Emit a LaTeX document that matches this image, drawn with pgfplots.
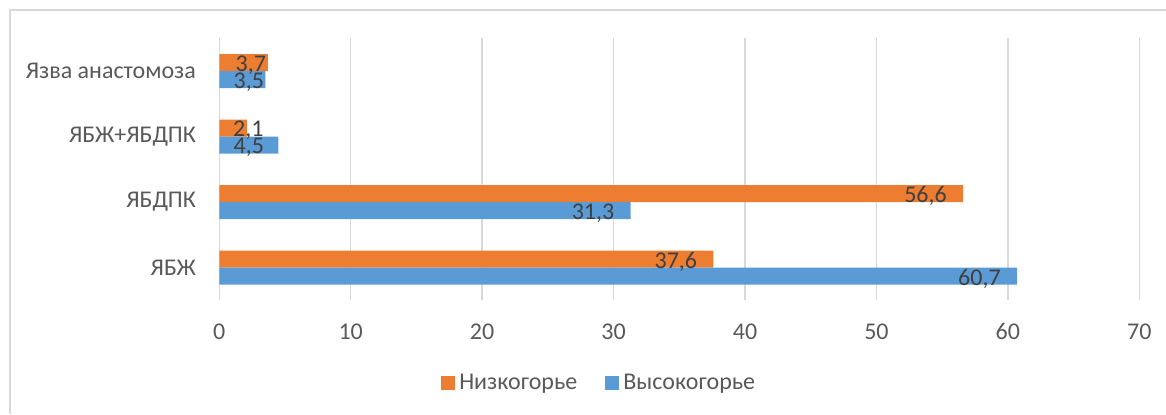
\documentclass[border=0pt]{standalone}
\usepackage{fontspec}
\setmainfont{Carlito}
\usepackage{pgfplots}
\usepackage{pgfplotstable}
\pgfplotsset{compat=1.18}
\definecolor{lowc}{HTML}{ED7D31}
\definecolor{highc}{HTML}{5B9BD5}
\definecolor{gridc}{HTML}{D9D9D9}
\definecolor{textc}{HTML}{595959}
\definecolor{lblc}{HTML}{404040}

% y = category index (0 = ЯБЖ), x = percent, dx = label shift in pt
\pgfplotstableread{
y x dx
0 37.6 -8
1 56.6 -8
2 2.1 8.5
3 3.7 -0.8
}\lowland
\pgfplotstableread{
y x dx
0 60.7 -8
1 31.3 -8
2 4.5 -7
3 3.5 -0.5
}\highland

\begin{document}
\begin{tikzpicture}[font=\fontsize{12}{14}\selectfont]
\useasboundingbox (0,0) rectangle (583pt,207pt);
\draw[gridc, line width=0.6pt] (5pt,0) -- (5pt,202pt) -- (583pt,202pt);
\begin{axis}[
  at={(109.65pt,56.85pt)}, anchor=south west,
  scale only axis, width=460pt, height=131pt,
  xmin=0, xmax=70, ymin=-0.5, ymax=3.5,
  xtick={0,10,...,70}, ytick={0,1,2,3},
  yticklabels={ЯБЖ,ЯБДПК,ЯБЖ+ЯБДПК,Язва анастомоза},
  axis lines=left, axis line style={draw=none},
  major tick length=0pt,
  xmajorgrids, grid style={gridc, line width=0.75pt},
  tick label style={text=textc},
  /pgf/number format/assume math mode=true,
  xticklabel style={anchor=north, inner sep=0pt, yshift=-11.5pt},
  yticklabel style={anchor=east, inner sep=0pt, xshift=-11.5pt},
  legend columns=2,
  legend style={draw=none, at={(0.414,-0.316)}, anchor=center,
    text=textc, /tikz/every even column/.append style={column sep=12pt}},
  xbar, bar width=0.26, point meta=x,
  nodes near coords={\pgfmathprintnumber[fixed,fixed zerofill,precision=1,use comma]{\pgfplotspointmeta}},
  nodes near coords style={anchor=east, xshift=\dx pt, yshift=-1.2pt, inner sep=0pt, text=lblc,
    /pgf/number format/assume math mode=true},
  visualization depends on={\thisrow{dx} \as \dx},
]
\addplot[fill=lowc, draw=none, bar shift=0.13,
  legend image code/.code={\fill[lowc] (0pt,-3.5pt) rectangle (7pt,3.5pt);}]
  table[x=x, y=y] {\lowland};
\addlegendentry{Низкогорье}
\addplot[fill=highc, draw=none, bar shift=-0.13,
  legend image code/.code={\fill[highc] (0pt,-3.5pt) rectangle (7pt,3.5pt);}]
  table[x=x, y=y] {\highland};
\addlegendentry{Высокогорье}
\end{axis}
\end{tikzpicture}
\end{document}
